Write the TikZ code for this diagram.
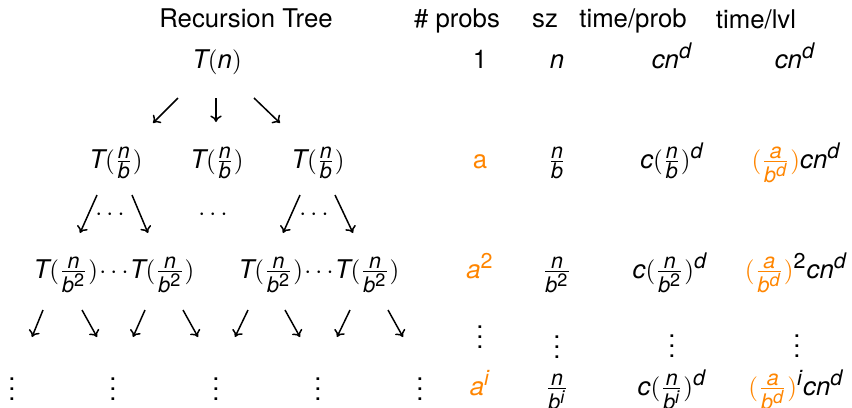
\documentclass[tikz,border=0pt]{standalone}
\usepackage{amsmath}
\usepackage{fontspec}
\setmainfont{TeX Gyre Heros}
\usepackage[italic]{mathastext}
\usetikzlibrary{arrows.meta}
\definecolor{accent}{RGB}{255,133,0}
\newcommand{\two}{\text{2}}
\begin{document}
\begin{tikzpicture}[x=0.4pt,y=-0.4pt,
  lbl/.style={font=\fontsize{10.3}{12}\selectfont, inner sep=0pt, anchor=base},
  cen/.style={font=\fontsize{10.3}{12}\selectfont, inner sep=0pt, anchor=center},
  arr/.style={line width=0.6pt, -{To[length=2.6pt,width=4.6pt]}}]
\useasboundingbox (0,0) rectangle (852,407);
% headers
\node[lbl] (hTree) at (246,27) {Recursion Tree};
\node[lbl] (hProbs) at (457,27) {\# probs};
\node[lbl] (hSz) at (545,27) {sz};
\node[lbl] (hTP) at (633,27) {time/prob};
\node[lbl] (hTL) at (756,28) {time/lvl};
% row 1
\node[lbl] (t0) at (217,68) {$T(n)$};
\node[lbl] (p0) at (480,68) {1};
\node[lbl] (s0) at (557,68) {$n$};
\node[lbl] (tp0) at (672,68) {$cn^d$};
\node[lbl] (tl0) at (795,68) {$cn^d$};
% row 2
\node[lbl] (t1a) at (116,168) {$T(\frac{n}{b})$};
\node[lbl] (t1b) at (217,168) {$T(\frac{n}{b})$};
\node[lbl] (t1c) at (318,168) {$T(\frac{n}{b})$};
\node[lbl] (p1) at (480,168) {\textcolor{accent}{a}};
\node[lbl] (s1) at (557,168) {$\frac{n}{b}$};
\node[lbl] (tp1) at (672,168) {$c(\frac{n}{b})^d$};
\node[lbl] (tl1) at (796,168) {$\textcolor{accent}{(\frac{a}{b^d})}cn^d$};
% row 3 dots
\node[cen] (d3a) at (112,215) {$\cdots$};
\node[cen] (d3b) at (215,215) {$\cdots$};
\node[cen] (d3c) at (316,215) {$\cdots$};
% row 4
\node[lbl] (t2a) at (114,278) {$T(\frac{n}{b^{\two}})\mkern-2mu\cdots\mkern-2mu T(\frac{n}{b^{\two}})$};
\node[lbl] (t2b) at (319,278) {$T(\frac{n}{b^{\two}})\mkern-2mu\cdots\mkern-2mu T(\frac{n}{b^{\two}})$};
\node[lbl] (p2) at (480,278) {$\textcolor{accent}{a^{\two}}$};
\node[lbl] (s2) at (557,278) {$\frac{n}{b^{\two}}$};
\node[lbl] (tp2) at (670,278) {$c(\frac{n}{b^{\two}})^d$};
\node[lbl] (tl2) at (796,278) {$\textcolor{accent}{(\frac{a}{b^d})}^{\two}cn^d$};
% vertical dots right
\node[cen] (v1) at (480,330) {$\vdots$};
\node[cen] (v2) at (557,340) {$\vdots$};
\node[cen] (v3) at (672,339) {$\vdots$};
\node[cen] (v4) at (797,339) {$\vdots$};
% row 6
\node[cen] (w1) at (12,382) {$\vdots$};
\node[cen] (w2) at (113,382) {$\vdots$};
\node[cen] (w3) at (216,382) {$\vdots$};
\node[cen] (w4) at (318,382) {$\vdots$};
\node[cen] (w5) at (420,382) {$\vdots$};
\node[lbl] (p3) at (480,395) {$\textcolor{accent}{a^i}$};
\node[lbl] (s3) at (557,395) {$\frac{n}{b^i}$};
\node[lbl] (tp3) at (672,395) {$c(\frac{n}{b^i})^d$};
\node[lbl] (tl3) at (796,395) {$\textcolor{accent}{(\frac{a}{b^d})}^icn^d$};
% arrows
\foreach \n/\xa/\ya/\xb/\yb in {
  r1a/178/98/153/123, r1b/216/98/216/122, r1c/254/98/280/123,
  r3a/97/195/80/233, r3b/132/195/148/233, r3c/300/195/283/233, r3d/335/195/353/233,
  r5a/43/310/32/337, r5b/82/310/97/337, r5c/145/310/133/337, r5d/183/310/198/337,
  r5e/248/310/235/337, r5f/285/310/300/337, r5g/350/310/337/337, r5h/388/310/403/337}{
  \coordinate (\n s) at (\xa,\ya);
  \coordinate (\n e) at (\xb,\yb);
  \draw[arr] (\n s) -- (\n e);
}
\end{tikzpicture}
\end{document}
